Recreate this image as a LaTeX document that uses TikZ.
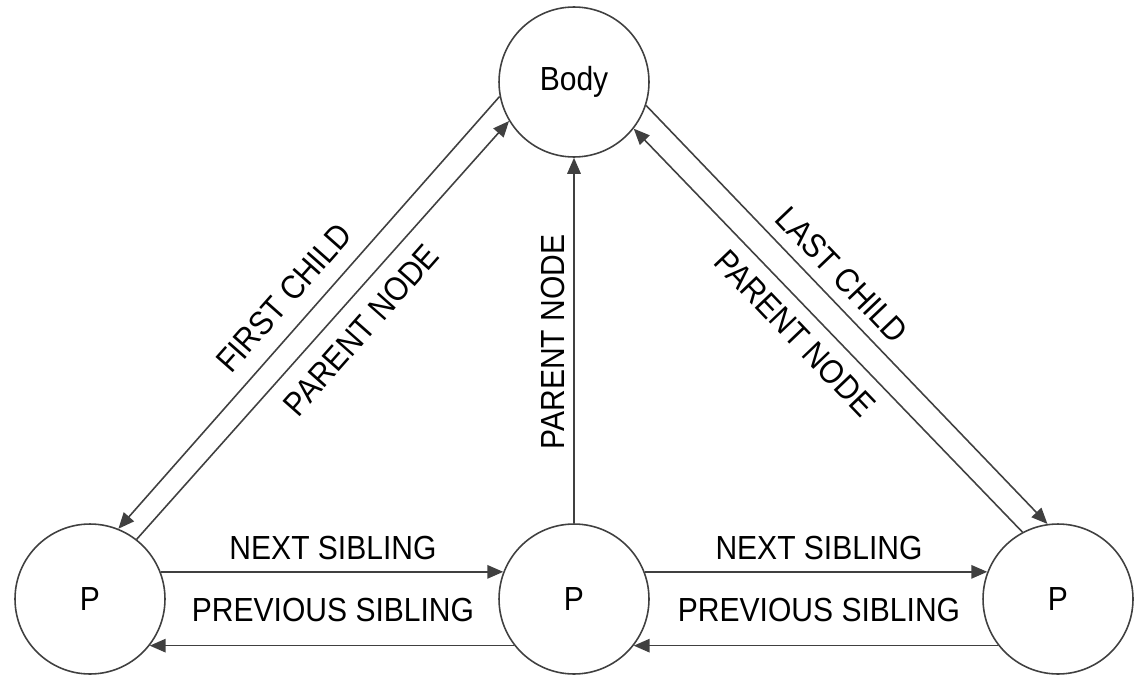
\documentclass[tikz,border=0pt]{standalone}
\usepackage{fontspec}
\setmainfont{Liberation Sans}[FakeStretch=0.9]
\usetikzlibrary{arrows.meta}
\tikzstyle{elem} = [circle,fill=white,draw=black!75,line width=0.9pt,inner sep=0pt,
minimum size=3cm, font=\fontsize{19}{19}\selectfont]
\tikzstyle{caption} = [font=\fontsize{19}{19}\selectfont, inner sep=0pt]
\tikzstyle{link} = [draw=black!75, line width=0.9pt,
-{Triangle[length=0.32cm,width=0.27cm]}]
\newcommand{\edge}[3][]{ %
  % Connect node anchor #2 to node anchor #3.
  \path (#2) edge [link, #1] (#3) ;%
}

\begin{document}
\begin{tikzpicture}[x=0.02cm,y=0.02cm]
  \useasboundingbox (0,0) rectangle (1138,674);
  \node[elem](body) at (574,592) {Body};
  \node[elem](p1) at (90,75) {P};
  \node[elem](p2) at (574,75) {P};
  \node[elem](p3) at (1058,75) {P};
  \edge{body.191}{p1.68};
  \edge{p1.52}{body.211};
  \edge{p2.90}{body.270};
  \edge{body.342}{p3.98};
  \edge{p3.118}{body.322};
  \edge{p1.21}{p2.159};
  \edge{p2.218}{p1.322};
  \edge{p2.21}{p3.159};
  \edge{p3.218}{p2.322};
  \node[caption,rotate=48.5](first) at (284,376) {FIRST CHILD};
  \node[caption,rotate=48.5](up1) at (361,344) {PARENT NODE};
  \node[caption,rotate=90](up2) at (553,332) {PARENT NODE};
  \node[caption,rotate=-46.3](last) at (842,399) {LAST CHILD};
  \node[caption,rotate=-46.3](up3) at (795,341) {PARENT NODE};
  \node[caption](next1) at (333,126) {NEXT SIBLING};
  \node[caption](prev1) at (333,64) {PREVIOUS SIBLING};
  \node[caption](next2) at (819,126) {NEXT SIBLING};
  \node[caption](prev2) at (819,64) {PREVIOUS SIBLING};
\end{tikzpicture}
\end{document}
